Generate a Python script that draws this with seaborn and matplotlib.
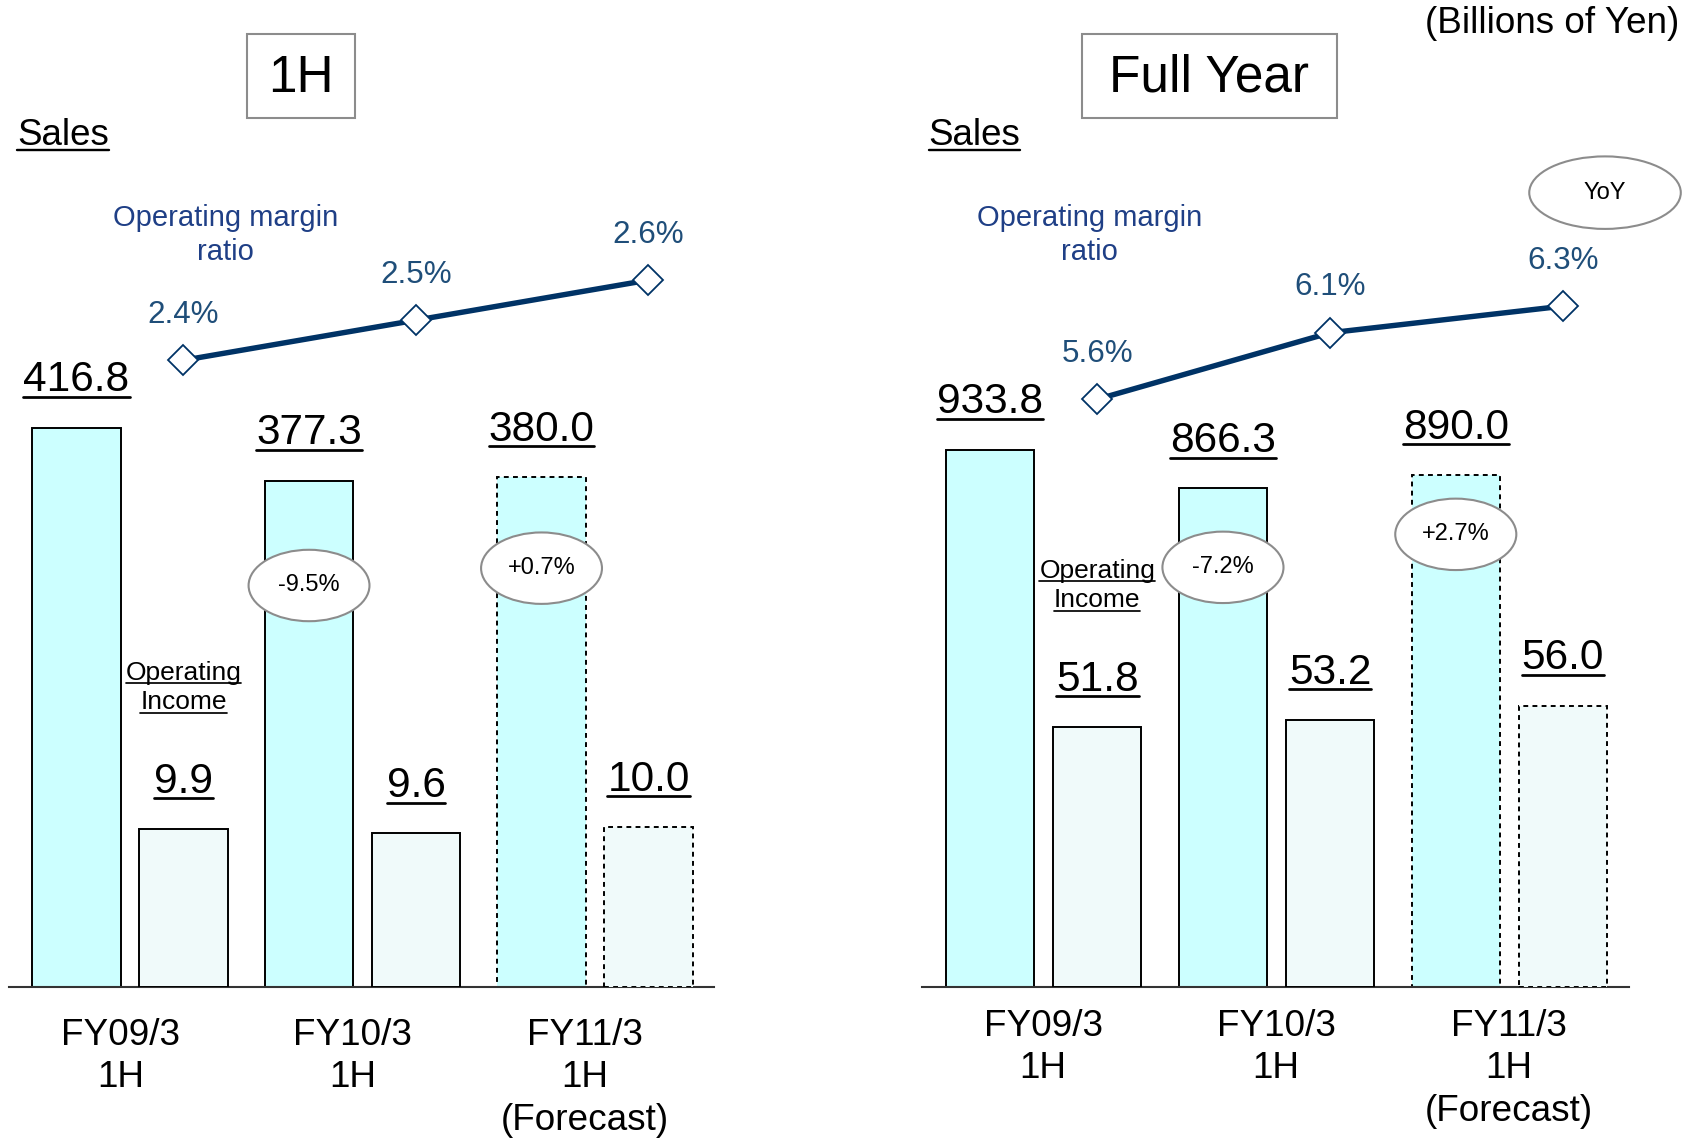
import numpy as np
import matplotlib
matplotlib.use("Agg")
import matplotlib.pyplot as plt
import matplotlib.transforms as mtransforms
from matplotlib.patches import Ellipse, Rectangle
from matplotlib.lines import Line2D
import seaborn as sns

# -------------------------------
# DATA (Billions of Yen)
# -------------------------------

PERIODS = ["FY09/3\n1H", "FY10/3\n1H", "FY11/3\n1H\n(Forecast)"]

sales_1h = [416.8, 377.3, 380.0]
op_income_1h = [9.9, 9.6, 10.0]
margin_1h = [2.4, 2.5, 2.6]
yoy_1h = ["-9.5%", "+0.7%"]

sales_fy = [933.8, 866.3, 890.0]
op_income_fy = [51.8, 53.2, 56.0]
margin_fy = [5.6, 6.1, 6.3]
yoy_fy = ["-7.2%", "+2.7%"]

# -------------------------------
# STYLE
# -------------------------------

sns.set_style("white")
plt.rcParams["font.family"] = ["Liberation Sans", "DejaVu Sans"]
plt.rcParams["text.color"] = "black"

SALES_FC = "#CCFFFF"
OP_FC = "#F0FAFA"
NAVY = "#003366"
TEXT_NAVY = "#1F3F86"
PCT_NAVY = "#1F4E79"
GRAY = "#8C8C8C"
DOTTED = (0, (2.5, 2.2))

fig = plt.figure(figsize=(16.97, 11.42), dpi=100)
underlined = []


def draw_panel(rect, sales, op, margin, yoy, sales_max, op_max, m_lim,
               yoy_h, lab_shift, lab_pad):
    ax = fig.add_axes(rect)
    ax2 = ax.twinx()
    ax3 = ax.twinx()

    grp = np.arange(len(PERIODS))
    xs = grp - 0.228
    xo = grp + 0.232

    sns.barplot(x=xs, y=sales, native_scale=True, width=0.38, color=SALES_FC,
                saturation=1, edgecolor="black", linewidth=1.4, errorbar=None, ax=ax)
    sns.barplot(x=xo, y=op, native_scale=True, width=0.38, color=OP_FC,
                saturation=1, edgecolor="black", linewidth=1.4, errorbar=None, ax=ax2)
    # forecast bars get a dotted outline
    ax.patches[-1].set_linestyle(DOTTED)
    ax2.patches[-1].set_linestyle(DOTTED)

    sns.lineplot(x=xo, y=margin, ax=ax3, color=NAVY, linewidth=3.9, marker="D",
                 markersize=15, markerfacecolor="white", markeredgecolor=NAVY,
                 markeredgewidth=1.3)

    ax.set_xlim(-0.52, 2.515)
    ax.set_ylim(0, sales_max)
    ax2.set_ylim(0, op_max)
    ax3.set_ylim(*m_lim)

    for a in (ax, ax2, ax3):
        a.set_xticks([])
        a.set_yticks([])
        a.set_xlabel("")
        a.set_ylabel("")
        for side in ["left", "right", "top", "bottom"]:
            a.spines[side].set_visible(False)
    ax.spines["bottom"].set_visible(True)
    ax.spines["bottom"].set_color("#333333")
    ax.spines["bottom"].set_linewidth(1.5)

    # value labels
    for x, v in zip(xs, sales):
        t = ax.annotate(f"{v:.1f}", (x, v), xytext=(0, 26), textcoords="offset points",
                        ha="center", va="baseline", fontsize=30.5, zorder=7)
        underlined.append(t)
    for x, v in zip(xo, op):
        t = ax2.annotate(f"{v:.1f}", (x, v), xytext=(0, 26), textcoords="offset points",
                         ha="center", va="baseline", fontsize=30.5, zorder=7)
        underlined.append(t)
    for x, m in zip(xo, margin):
        ax3.annotate(f"{m:.1f}%", (x, m), xytext=(0, 32.7), textcoords="offset points",
                     ha="center", va="center", fontsize=22.6, color=PCT_NAVY)

    # "Operating Income" tag above first op bar
    for word, dy in [("Operating", 107), ("Income", 86)]:
        t = ax2.annotate(word, (xo[0], op[0]), xytext=(0, dy), textcoords="offset points",
                         ha="center", va="baseline", fontsize=19)
        underlined.append(t)

    # YoY ellipses on sales bars
    trans = mtransforms.blended_transform_factory(ax.transData, ax.transAxes)
    for x, txt, h in zip(xs[1:], yoy, yoy_h):
        e = Ellipse((x, h), 0.52, 0.0866, transform=trans, facecolor="white",
                    edgecolor=GRAY, linewidth=1.5, zorder=5)
        ax.add_artist(e)
        ax.text(x, h, txt, transform=trans, ha="center", va="center", fontsize=17, zorder=6)

    # category labels
    for x, lab in zip(grp + lab_shift, PERIODS):
        ax.annotate(lab, (x, 0), xycoords=trans, xytext=(0, -lab_pad),
                    textcoords="offset points", ha="center", va="top",
                    fontsize=26.6, linespacing=1.28, annotation_clip=False)
    return ax


draw_panel([0.0051, 0.13555, 0.4158, 0.7223], sales_1h, op_income_1h, margin_1h, yoy_1h,
           614.3, 51.5, (0.835, 2.894), [0.487, 0.508], -0.04, 22)
draw_panel([0.5434, 0.13555, 0.4164, 0.7223], sales_fy, op_income_fy, margin_fy, yoy_fy,
           1432.8, 164.0, (1.181, 7.381), [0.509, 0.549], 0.0, 15.5)

# -------------------------------
# HEADERS AND NOTES
# -------------------------------

fig.text(0.9898, 0.9791, "(Billions of Yen)", ha="right", va="center", fontsize=26.6)

for x in (0.0102, 0.5472):
    t = fig.text(x, 0.8815, "Sales", ha="left", va="center", fontsize=26.5)
    underlined.append(t)

for (x0, w), title in [((0.1454, 0.0638), "1H"), ((0.6378, 0.1498), "Full Year")]:
    fig.add_artist(Rectangle((x0, 0.8967), w, 0.0739, transform=fig.transFigure,
                             fill=False, edgecolor=GRAY, linewidth=1.5))
    fig.text(x0 + w / 2, 0.9316, title, ha="center", va="center", fontsize=37)

for x in (0.1327, 0.6422):
    fig.text(x, 0.7943, "Operating margin\nratio", ha="center", va="center",
             fontsize=21, color=TEXT_NAVY, linespacing=1.26)

fig.add_artist(Ellipse((0.9458, 0.8313), 0.0893, 0.0635, transform=fig.transFigure,
                       facecolor="white", edgecolor=GRAY, linewidth=1.5))
fig.text(0.9458, 0.8313, "YoY", ha="center", va="center", fontsize=17)

# -------------------------------
# UNDERLINES
# -------------------------------

fig.canvas.draw()
renderer = fig.canvas.get_renderer()
inv = fig.transFigure.inverted()
for t in underlined:
    bb = t.get_window_extent(renderer)
    _, _, d = renderer.get_text_width_height_descent("lp", t.get_fontproperties(), ismath=False)
    size = t.get_fontsize()
    y = bb.y0 + d - 0.13 * size * fig.dpi / 72
    (x0, y0), (x1, _) = inv.transform([(bb.x0, y), (bb.x1, y)])
    fig.add_artist(Line2D([x0, x1], [y0, y0], transform=fig.transFigure,
                          color="black", linewidth=size * 0.065))

fig.savefig("out.png", dpi=100)
